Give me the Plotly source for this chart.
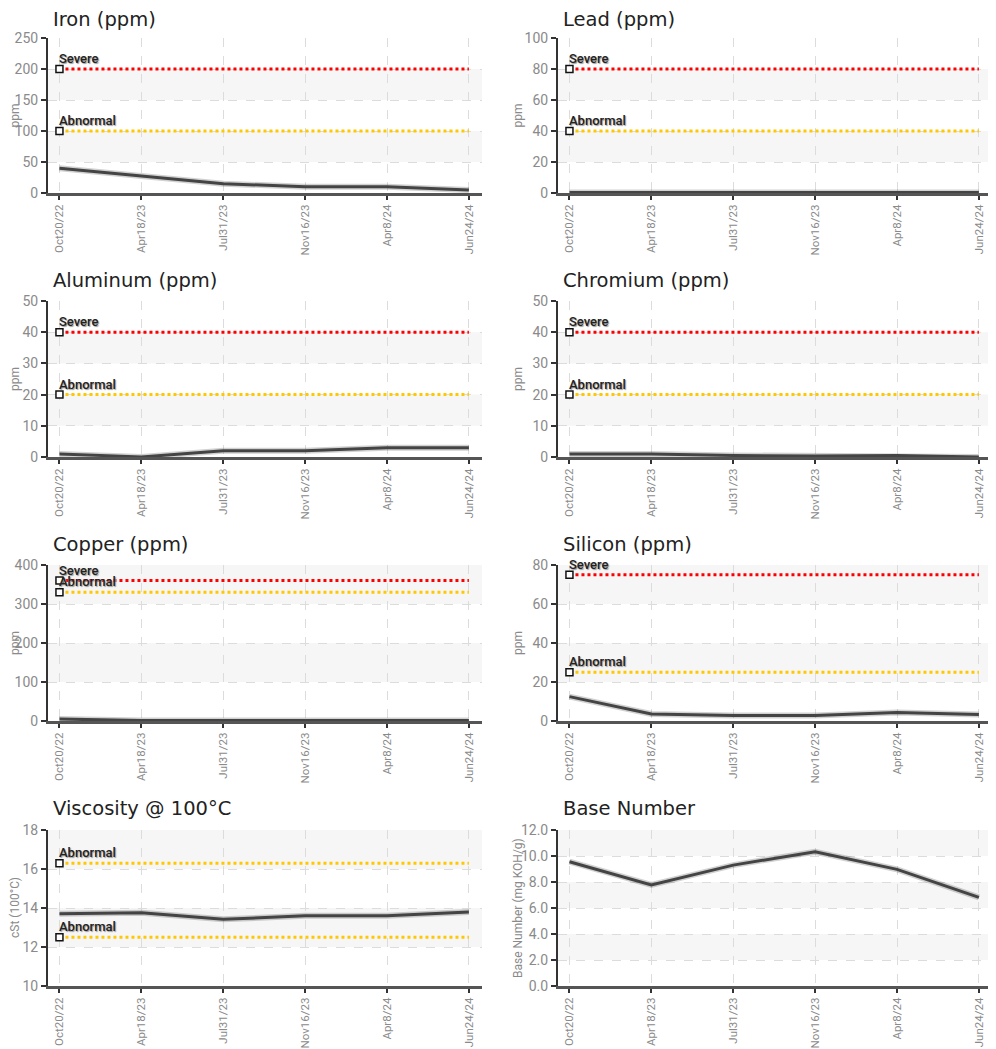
import plotly.graph_objects as go

dates = ["Oct20/22", "Apr18/23", "Jul31/23", "Nov16/23", "Apr8/24", "Jun24/24"]

iron = [40, 28, 15, 10, 10, 5]
lead = [0.3, 0.3, 0.3, 0.3, 0.3, 0.3]
aluminum = [1, 0, 2, 2, 3, 3]
chromium = [1, 1, 0.5, 0.3, 0.5, 0]
copper = [5, 1, 1, 1, 1, 1]
silicon = [12.5, 3.6, 2.8, 2.8, 4.3, 3.3]
viscosity = [13.7, 13.76, 13.42, 13.6, 13.6, 13.8]
base_number = [9.56, 7.77, 9.3, 10.33, 8.97, 6.82]

panels = [
    dict(title="Iron (ppm)", vals=iron, ymin=0, ymax=250, dtick=50, ytitle="ppm",
         limits=[("Severe", 200, "#ff0000"), ("Abnormal", 100, "#ffc800")], fmt=""),
    dict(title="Lead (ppm)", vals=lead, ymin=0, ymax=100, dtick=20, ytitle="ppm",
         limits=[("Severe", 80, "#ff0000"), ("Abnormal", 40, "#ffc800")], fmt=""),
    dict(title="Aluminum (ppm)", vals=aluminum, ymin=0, ymax=50, dtick=10, ytitle="ppm",
         limits=[("Severe", 40, "#ff0000"), ("Abnormal", 20, "#ffc800")], fmt=""),
    dict(title="Chromium (ppm)", vals=chromium, ymin=0, ymax=50, dtick=10, ytitle="ppm",
         limits=[("Severe", 40, "#ff0000"), ("Abnormal", 20, "#ffc800")], fmt=""),
    dict(title="Copper (ppm)", vals=copper, ymin=0, ymax=400, dtick=100, ytitle="ppm",
         limits=[("Severe", 360, "#ff0000"), ("Abnormal", 330, "#ffc800")], fmt=""),
    dict(title="Silicon (ppm)", vals=silicon, ymin=0, ymax=80, dtick=20, ytitle="ppm",
         limits=[("Severe", 75, "#ff0000"), ("Abnormal", 25, "#ffc800")], fmt=""),
    dict(title="Viscosity @ 100°C", vals=viscosity, ymin=10, ymax=18, dtick=2, ytitle="cSt (100°C)",
         limits=[("Abnormal", 16.3, "#ffc800"), ("Abnormal", 12.5, "#ffc800")], fmt=""),
    dict(title="Base Number", vals=base_number, ymin=0, ymax=12, dtick=2,
         ytitle="Base Number (mg KOH/g)", limits=[], fmt=".1f"),
]

OFF = 8  # default page body margin
W, H = 996 - OFF, 1049 - OFF
col_x = [(48 - OFF, 482 - OFF), (558 - OFF, 992 - OFF)]
ytitle_x = [15 - OFF, 518 - OFF]
row_y = [(38 - OFF, 193 - OFF), (301 - OFF, 457 - OFF), (565 - OFF, 721 - OFF), (830 - OFF, 986 - OFF)]
title_y = [20 - OFF, 280 - OFF, 544 - OFF, 808 - OFF]

TICKFONT = "Roboto, Liberation Sans, sans-serif"
TITLEFONT = "DejaVu Sans, Verdana, sans-serif"

fig = go.Figure()
layout = dict(width=W, height=H, margin=dict(l=0, r=0, t=0, b=0, autoexpand=False),
              paper_bgcolor="white", plot_bgcolor="white", showlegend=False,
              shapes=[], annotations=[])

for i, p in enumerate(panels):
    r, c = divmod(i, 2)
    n = i + 1
    xa = "x" if n == 1 else f"x{n}"
    ya = "y" if n == 1 else f"y{n}"
    xk = "xaxis" if n == 1 else f"xaxis{n}"
    yk = "yaxis" if n == 1 else f"yaxis{n}"
    x0, x1 = col_x[c]
    y0, y1 = row_y[r]
    layout[xk] = dict(
        domain=[x0 / W, x1 / W], anchor=ya, type="category", categoryarray=dates,
        range=[-0.14, 5.16], tickangle=-90, showline=True, linecolor="#555", linewidth=3,
        ticks="outside", ticklen=4, tickcolor="#333", tickwidth=1.5,
        showgrid=True, gridcolor="#dcdcdc", griddash="dash", gridwidth=1,
        tickfont=dict(family=TICKFONT, size=11.5, color="#8a8a8a"), zeroline=False,
        automargin=False, fixedrange=True,
    )
    layout[yk] = dict(
        domain=[1 - y1 / H, 1 - y0 / H], anchor=xa, range=[p["ymin"], p["ymax"]],
        dtick=p["dtick"], tick0=p["ymin"], tickformat=p["fmt"],
        showline=True, linecolor="#333", linewidth=2,
        ticks="outside", ticklen=5, tickcolor="#333", tickwidth=1.5,
        showgrid=True, gridcolor="#dcdcdc", griddash="dash", gridwidth=1,
        tickfont=dict(family=TICKFONT, size=14, color="#8a8a8a"), zeroline=False,
        automargin=False, fixedrange=True,
    )
    # y-axis title
    layout["annotations"].append(dict(
        x=ytitle_x[c] / W, y=1 - (y0 + y1) / 2 / H, xref="paper", yref="paper",
        text=p["ytitle"], textangle=-90, showarrow=False, xanchor="center", yanchor="middle",
        font=dict(family=TICKFONT, size=12, color="#8a8a8a")))
    # alternating bands
    k = 0
    v = p["ymin"]
    while v < p["ymax"] - 1e-9:
        if k % 2 == 1:
            layout["shapes"].append(dict(
                type="rect", xref=f"{xa} domain", yref=ya, x0=0, x1=1, y0=v, y1=v + p["dtick"],
                fillcolor="#f6f6f6", line=dict(width=0), layer="below"))
        v += p["dtick"]
        k += 1
    # threshold lines
    for name, val, col in p["limits"]:
        fig.add_trace(go.Scatter(x=dates, y=[val] * len(dates), xaxis=xa, yaxis=ya,
                                 mode="lines", line=dict(color=col, width=3, dash="dot"),
                                 hoverinfo="skip"))
        fig.add_trace(go.Scatter(x=[dates[0]], y=[val], xaxis=xa, yaxis=ya, mode="markers",
                                 marker=dict(symbol="square", size=7, color="white",
                                             line=dict(color="#111", width=1.5)),
                                 hoverinfo="skip"))
        layout["annotations"].append(dict(
            x=0, y=val, xref=xa, yref=ya, text=name, showarrow=False,
            xanchor="left", yanchor="bottom", xshift=-2, yshift=1,
            font=dict(family=TICKFONT, size=13, color="#222", weight=500,
                      shadow="1px 1px 1px #999")))
    # data line with soft shadow
    fig.add_trace(go.Scatter(x=dates, y=p["vals"], xaxis=xa, yaxis=ya, mode="lines",
                             line=dict(color="rgba(0,0,0,0.18)", width=6), hoverinfo="skip"))
    fig.add_trace(go.Scatter(x=dates, y=p["vals"], xaxis=xa, yaxis=ya, mode="lines",
                             line=dict(color="#444", width=3), name=p["title"]))
    # panel title
    layout["annotations"].append(dict(
        x=(x0 + 4) / W, y=1 - title_y[r] / H, xref="paper", yref="paper", text=p["title"],
        showarrow=False, xanchor="left", yanchor="middle", borderpad=0,
        font=dict(family=TITLEFONT, size=19.5, color="#222")))

fig.update_layout(**layout)
fig.write_html("out.html")
